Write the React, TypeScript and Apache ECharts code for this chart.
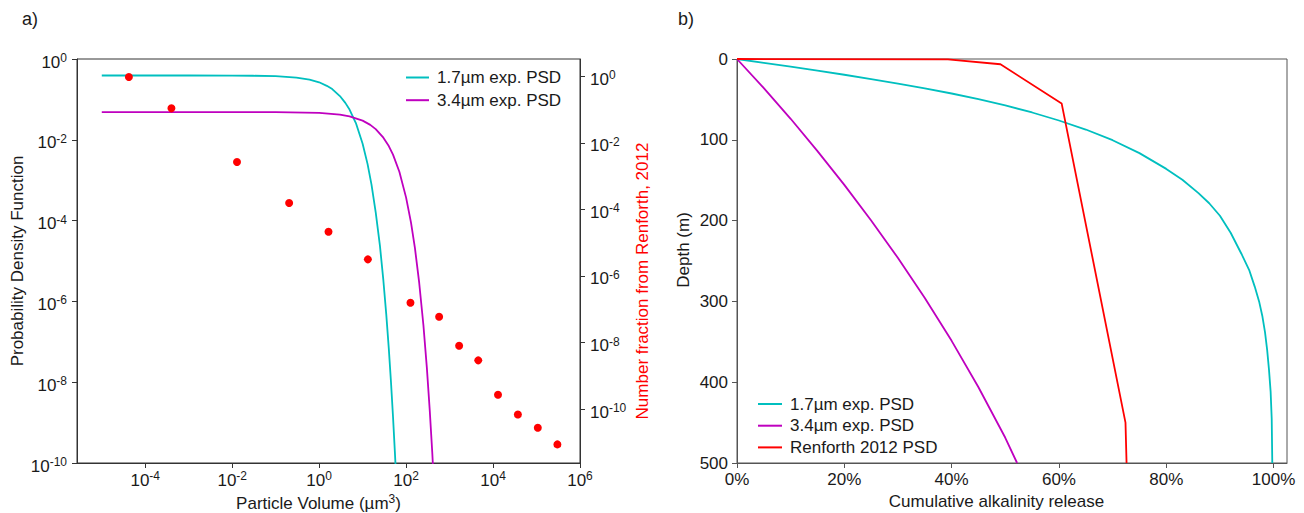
import React, { useEffect, useRef } from 'react';
import * as echarts from 'echarts';

const FONT = '"Liberation Sans", Arial, sans-serif';
const TXT = '#1a1a1a';
const CYAN = '#00bfbf';
const MAGENTA = '#bf00bf';
const RED = '#ff0000';

// ---- Panel a) : particle volume (µm^3) vs probability density ----
const psd17Volume = [1e-5, 1e-3, 0.01, 0.03, 0.1, 0.3, 0.6, 1, 1.5, 2, 3, 4, 5, 7, 10, 13, 16, 20, 25, 30, 35, 40, 45, 50, 55, 58];
const psd17Pdf = [0.39, 0.39, 0.388, 0.385, 0.375, 0.345, 0.31, 0.265, 0.217, 0.18, 0.121, 0.082, 0.056, 0.026, 0.008, 0.0025, 7.8e-4, 1.6e-4, 2.4e-5, 3.3e-6, 4.7e-7, 6.8e-8, 9.7e-9, 1.4e-9, 2.0e-10, 6.5e-11];
const psd34Volume = [1e-5, 0.1, 1, 3, 5, 10, 15, 20, 30, 40, 50, 70, 100, 130, 160, 200, 250, 300, 350, 400, 430];
const psd34Pdf = [0.0486, 0.0484, 0.0463, 0.042, 0.0381, 0.0298, 0.0234, 0.0184, 0.0113, 0.007, 0.0043, 0.00162, 3.7e-4, 8.8e-5, 2.05e-5, 2.9e-6, 2.6e-7, 2.3e-8, 2.0e-9, 1.8e-10, 4.0e-11];
const renforthVolume = [4.2e-5, 4.0e-4, 0.0129, 0.204, 1.64, 13.2, 126, 575, 1660, 4570, 13000, 37200, 107000, 302000];
const renforthFraction = [0.955, 0.109, 2.65e-3, 1.56e-4, 2.13e-5, 3.16e-6, 1.57e-7, 5.94e-8, 7.98e-9, 2.91e-9, 2.69e-10, 6.9e-11, 2.75e-11, 8.7e-12];

const volumeTickExp = [-4, -2, 0, 2, 4, 6];
const pdfTickExp = [-10, -8, -6, -4, -2, 0];
const fractionTickExp = [-10, -8, -6, -4, -2, 0];

// ---- Panel b) : cumulative alkalinity release (%) vs depth (m) ----
const release17 = [0, 5, 10, 15, 20, 25, 30, 35, 40, 45, 50, 55, 60, 65, 70, 75, 80, 83, 86, 88, 90, 92, 94, 95.5, 96.5, 97.3, 97.9, 98.4, 98.8, 99.15, 99.45, 99.65, 99.76];
const depth17 = [0, 4.7, 9.5, 14.4, 19.5, 24.9, 30.5, 36.4, 42.7, 49.7, 57.4, 66.2, 76.1, 87.3, 100.5, 116.5, 136, 149.5, 166, 178.5, 194, 215, 241, 262, 282, 300, 318, 338, 360, 385, 412, 445, 500];
const release34 = [0, 5, 10, 15, 20, 25, 30, 35, 40, 45, 50, 52.2];
const depth34 = [0, 36, 74, 114, 155.8, 199.8, 246.3, 295.8, 348.8, 406.3, 468.8, 500];
const releaseRenforth = [0, 39.3, 49.1, 60.5, 72.4, 72.6];
const depthRenforth = [0, 0.4, 6.5, 55, 450, 500];

const releaseTicks = [0, 20, 40, 60, 80, 100];

const NAME_17 = '1.7µm exp. PSD';
const NAME_34 = '3.4µm exp. PSD';
const NAME_REN = 'Renforth 2012 PSD';

const pow10Label = (v: number) => {
  const e = Math.round(v);
  return `{b|10}{s|${e < 0 ? '-' + Math.abs(e) : e}}`;
};

const supRich = {
  b: { fontSize: 17, fontFamily: FONT, color: TXT, lineHeight: 20 },
  s: { fontSize: 12, fontFamily: FONT, color: TXT, lineHeight: 10, verticalAlign: 'top' },
};

const logPairs = (xs: number[], ys: number[]) => xs.map((x, i) => [Math.log10(x), Math.log10(ys[i])]);
const pairs = (xs: number[], ys: number[]) => xs.map((x, i) => [x, ys[i]]);

const AX_A = '#333333';
const AX_B = '#555555';

function buildOption() {
  const tickA = { show: true, inside: false, length: 5, lineStyle: { color: AX_A, width: 1 } };
  const tickB = { show: true, inside: false, length: 5, lineStyle: { color: AX_B, width: 1 } };
  const nameStyle = { fontSize: 17, fontFamily: FONT, color: TXT };
  return {
    animation: false,
    backgroundColor: '#ffffff',
    textStyle: { fontFamily: FONT },
    grid: [
      { left: 77, top: 59, width: 503, height: 404, show: true, borderColor: AX_A, borderWidth: 1, backgroundColor: 'transparent', containLabel: false, outerBoundsMode: 'none' },
      { left: 737, top: 59, width: 550, height: 404, show: true, borderColor: AX_B, borderWidth: 1, backgroundColor: 'transparent', containLabel: false, outerBoundsMode: 'none' },
    ],
    xAxis: [
      {
        type: 'value', gridIndex: 0, min: -5.57, max: 6,
        axisLine: { show: true, onZero: false, lineStyle: { color: AX_A, width: 1 } },
        axisTick: { ...tickA, customValues: volumeTickExp },
        axisLabel: { customValues: volumeTickExp, formatter: pow10Label, rich: supRich, margin: 7, fontSize: 17, color: TXT },
        splitLine: { show: false },
        name: 'Particle Volume (µm{s|3})', nameLocation: 'middle', nameGap: 25,
        nameTextStyle: { ...nameStyle, lineHeight: 20, padding: [0, 20, 0, 0], rich: { s: { fontSize: 12, fontFamily: FONT, color: TXT, lineHeight: 10, verticalAlign: 'top' } } },
      },
      {
        type: 'value', gridIndex: 1, min: 0, max: 102.5,
        axisLine: { show: true, onZero: false, lineStyle: { color: AX_B, width: 1 } },
        axisTick: { ...tickB, customValues: releaseTicks },
        axisLabel: { customValues: releaseTicks, formatter: (v: number) => `${Math.round(v)}%`, margin: 8, fontSize: 17, color: TXT, fontFamily: FONT },
        splitLine: { show: false },
        name: 'Cumulative alkalinity release', nameLocation: 'middle', nameGap: 30,
        nameTextStyle: { ...nameStyle, padding: [0, 31, 0, 0] },
      },
    ],
    yAxis: [
      {
        type: 'value', gridIndex: 0, min: -10, max: 0,
        axisLine: { show: true, onZero: false, lineStyle: { color: AX_A, width: 1 } },
        axisTick: { ...tickA, customValues: pdfTickExp },
        axisLabel: { customValues: pdfTickExp, formatter: pow10Label, rich: supRich, margin: 10, fontSize: 17, color: TXT, padding: [6, 0, 0, 0] },
        splitLine: { show: false },
        name: 'Probability Density Function', nameLocation: 'middle', nameGap: 51,
        nameTextStyle: nameStyle,
      },
      {
        type: 'value', gridIndex: 0, position: 'right', min: -11.62, max: 0.52,
        axisLine: { show: true, onZero: false, lineStyle: { color: AX_A, width: 1 } },
        axisTick: { ...tickA, customValues: fractionTickExp },
        axisLabel: { customValues: fractionTickExp, formatter: pow10Label, rich: supRich, margin: 10, fontSize: 17, color: TXT, padding: [6, 0, 0, 0] },
        splitLine: { show: false },
        name: 'Number fraction from Renforth, 2012', nameLocation: 'middle', nameGap: 54,
        nameTextStyle: { ...nameStyle, color: RED, padding: [0, 40, 0, 0] },
      },
      {
        type: 'value', gridIndex: 1, min: 0, max: 500, interval: 100, inverse: true,
        axisLine: { show: true, onZero: false, lineStyle: { color: AX_B, width: 1 } },
        axisTick: tickB,
        axisLabel: { margin: 9, fontSize: 17, color: TXT, fontFamily: FONT },
        splitLine: { show: false },
        name: 'Depth (m)', nameLocation: 'middle', nameGap: 45,
        nameTextStyle: { ...nameStyle, padding: [0, 0, 0, 22] },
      },
    ],
    legend: [
      {
        data: [NAME_17, NAME_34], left: 406, top: 69, orient: 'vertical', icon: 'rect', padding: 0,
        itemWidth: 23, itemHeight: 2, itemGap: 5.7,
        textStyle: { fontSize: 17, fontFamily: FONT, color: TXT, lineHeight: 17, padding: [0, 0, 0, 3] },
      },
      {
        data: [NAME_17, NAME_34, NAME_REN], left: 758, top: 395.5, orient: 'vertical', icon: 'rect', padding: 0,
        itemWidth: 24, itemHeight: 2, itemGap: 4.7,
        textStyle: { fontSize: 17, fontFamily: FONT, color: TXT, lineHeight: 17, padding: [0, 0, 0, 3] },
      },
    ],
    graphic: [
      { type: 'text', left: 22, top: 10, style: { text: 'a)', fontSize: 18, fontFamily: FONT, fill: TXT } },
      { type: 'text', left: 678, top: 10, style: { text: 'b)', fontSize: 18, fontFamily: FONT, fill: TXT } },
    ],
    series: [
      {
        type: 'line', name: NAME_17, xAxisIndex: 0, yAxisIndex: 0, data: logPairs(psd17Volume, psd17Pdf),
        showSymbol: false, symbol: 'none', lineStyle: { color: CYAN, width: 1.8 }, itemStyle: { color: CYAN }, clip: true,
      },
      {
        type: 'line', name: NAME_34, xAxisIndex: 0, yAxisIndex: 0, data: logPairs(psd34Volume, psd34Pdf),
        showSymbol: false, symbol: 'none', lineStyle: { color: MAGENTA, width: 1.8 }, itemStyle: { color: MAGENTA }, clip: true,
      },
      {
        type: 'scatter', name: 'Renforth 2012 data', xAxisIndex: 0, yAxisIndex: 1, data: logPairs(renforthVolume, renforthFraction),
        symbol: 'circle', symbolSize: 8, itemStyle: { color: RED, opacity: 1 }, z: 5,
      },
      {
        type: 'line', name: NAME_17, xAxisIndex: 1, yAxisIndex: 2, data: pairs(release17, depth17),
        showSymbol: false, symbol: 'none', lineStyle: { color: CYAN, width: 1.8 }, itemStyle: { color: CYAN }, clip: true,
      },
      {
        type: 'line', name: NAME_34, xAxisIndex: 1, yAxisIndex: 2, data: pairs(release34, depth34),
        showSymbol: false, symbol: 'none', lineStyle: { color: MAGENTA, width: 1.8 }, itemStyle: { color: MAGENTA }, clip: true,
      },
      {
        type: 'line', name: NAME_REN, xAxisIndex: 1, yAxisIndex: 2, data: pairs(releaseRenforth, depthRenforth),
        showSymbol: false, symbol: 'none', lineStyle: { color: RED, width: 1.8 }, itemStyle: { color: RED }, clip: false, z: 4,
      },
    ],
  };
}

export default function App() {
  const ref = useRef<HTMLDivElement>(null);
  useEffect(() => {
    if (!ref.current) return;
    const chart = echarts.init(ref.current, null, { renderer: 'svg' });
    chart.setOption(buildOption() as any);
    return () => chart.dispose();
  }, []);
  return <div ref={ref} style={{ position: 'absolute', left: 0, top: 0, width: 1304, height: 513 }} />;
}
